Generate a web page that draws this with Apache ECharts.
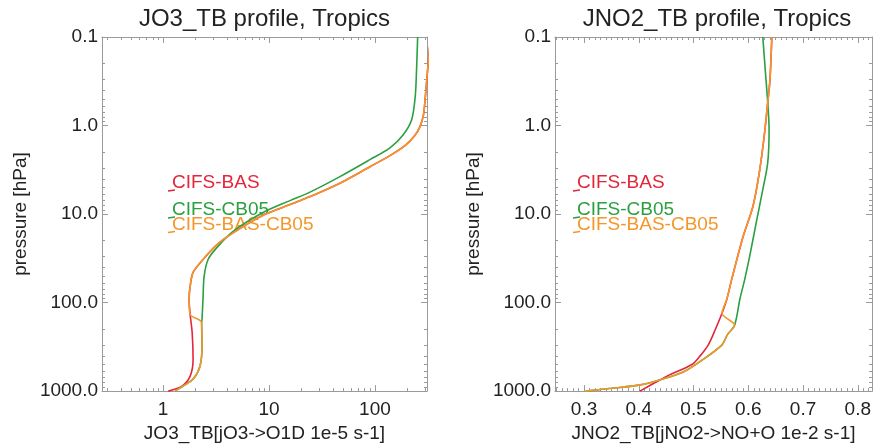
<!DOCTYPE html>
<html>
<head>
<meta charset="utf-8">
<script src="https://cdn.jsdelivr.net/npm/echarts@6/dist/echarts.min.js"></script>
<style>
html,body{margin:0;padding:0;background:#fff;}
#chart{width:874px;height:448px;}
</style>
</head>
<body>
<div id="chart"></div>
<script>
// ---------- data ----------
var seriesNames = ['CIFS-BAS', 'CIFS-CB05', 'CIFS-BAS-CB05'];
var titles = ['JO3_TB profile, Tropics', 'JNO2_TB profile, Tropics'];
var xNames = ['JO3_TB[jO3->O1D 1e-5 s-1]', 'JNO2_TB[jNO2->NO+O 1e-2 s-1]'];
var yName = 'pressure [hPa]';

// Left panel: JO3 (1e-5 s-1) vs pressure (hPa)
var jo3BasP = [0.1, 0.2, 0.283, 0.474, 0.757, 1.03, 1.30, 1.69, 2.19, 2.92, 4.48, 6.35, 7.82, 10.3, 16.2, 22.1, 32.6, 45.6, 65.6, 91.8, 136, 216, 436, 678, 880, 1000];
var jo3BasV = [335, 318, 310, 299, 287, 266, 238, 192, 138.5, 89.7, 46.7, 24.4, 15.8, 8.78, 4.61, 3.23, 2.38, 1.92, 1.80, 1.76, 1.80, 1.88, 1.92, 1.80, 1.51, 1.12];
var jo3CbP = [0.1, 0.235, 0.471, 0.861, 1.27, 1.79, 2.43, 3.78, 5.65, 7.05, 9.62, 15.6, 23.8, 32.6, 50.6, 91.8, 154, 168, 311, 523, 732, 880, 1000];
var jo3CbV = [253, 247, 240, 222, 185, 138.5, 89.7, 46.7, 24.4, 15.8, 8.78, 4.61, 3.23, 2.66, 2.44, 2.38, 2.33, 2.31, 2.33, 2.23, 1.92, 1.54, 1.30];
var jo3MixP = [0.1, 0.2, 0.283, 0.474, 0.757, 1.03, 1.30, 1.69, 2.19, 2.92, 4.48, 6.35, 7.82, 10.3, 16.2, 22.1, 32.6, 45.6, 65.6, 91.8, 136, 168, 311, 523, 732, 880, 1000];
var jo3MixV = [335, 318, 310, 299, 287, 266, 238, 192, 138.5, 89.7, 46.7, 24.4, 15.8, 8.78, 4.61, 3.23, 2.38, 1.92, 1.80, 1.76, 1.80, 2.31, 2.33, 2.23, 1.92, 1.54, 1.30];

// Right panel: JNO2 (1e-2 s-1) vs pressure (hPa)
var jno2BasP = [0.1, 0.305, 0.55, 1.33, 3.44, 8.17, 17.8, 54.7, 91.8, 132, 200, 300, 400, 500, 660, 800, 1000];
var jno2BasV = [0.643, 0.6396, 0.6355, 0.629, 0.620, 0.6086, 0.5907, 0.5697, 0.5608, 0.552, 0.540, 0.527, 0.512, 0.497, 0.455, 0.430, 0.402];
var jno2CbP = [0.1, 0.235, 0.55, 1.11, 2.63, 5.3, 12.5, 30.1, 54.7, 91.8, 180, 230, 300, 450, 600, 730, 850, 930, 1000];
var jno2CbV = [0.6265, 0.631, 0.6355, 0.638, 0.6355, 0.6265, 0.6145, 0.6025, 0.5935, 0.5846, 0.575, 0.562, 0.552, 0.515, 0.483, 0.444, 0.403, 0.350, 0.303];
var jno2MixP = [0.1, 0.305, 0.55, 1.33, 3.44, 8.17, 17.8, 54.7, 91.8, 132, 180, 230, 300, 450, 600, 730, 850, 930, 1000];
var jno2MixV = [0.643, 0.6396, 0.6355, 0.629, 0.620, 0.6086, 0.5907, 0.5697, 0.5608, 0.552, 0.575, 0.562, 0.552, 0.515, 0.483, 0.444, 0.403, 0.350, 0.303];

var colors = ['#e3263a', '#2aa040', '#f5962a'];

// ---------- helpers ----------
function pairs(v, p) { return v.map(function (x, i) { return [x, p[i]]; }); }
var FONT = 'Liberation Sans, Arial, Helvetica, sans-serif';
var TXT = '#222';
var AX = '#9a9a9a';

function xAxisDef(grid, type, min, max, pos, labels, name, minorSplit, fmt) {
  return {
    gridIndex: grid, type: type, min: min, max: max, position: pos,
    name: labels ? name : '', nameLocation: 'middle', nameGap: 29,
    nameTextStyle: { color: TXT, fontSize: 19, fontFamily: FONT },
    axisLine: { show: true, lineStyle: { color: AX, width: 1 } },
    axisTick: { show: true, inside: true, length: 6, lineStyle: { color: AX } },
    minorTick: { show: true, splitNumber: minorSplit, length: 3, lineStyle: { color: AX } },
    axisLabel: { show: labels, color: TXT, fontSize: 19, fontFamily: FONT, margin: 9,
      showMinLabel: false, showMaxLabel: false, formatter: fmt },
    splitLine: { show: false }
  };
}
function yAxisDef(grid, pos, labels) {
  return {
    gridIndex: grid, type: 'log', min: 0.1, max: 1000, inverse: true, position: pos,
    name: labels ? yName : '', nameLocation: 'middle', nameGap: 72, nameRotate: 90,
    nameTextStyle: { color: TXT, fontSize: 19, fontFamily: FONT },
    axisLine: { show: true, lineStyle: { color: AX, width: 1 } },
    axisTick: { show: true, inside: true, length: 6, lineStyle: { color: AX } },
    minorTick: { show: true, splitNumber: 9, length: 3, lineStyle: { color: AX } },
    axisLabel: { show: labels, color: TXT, fontSize: 19, fontFamily: FONT, margin: 4,
      formatter: function (v) { return Number(v).toFixed(1); } },
    splitLine: { show: false }
  };
}

function line(name, data, xi, yi, color, z) {
  return {
    name: name, type: 'line', xAxisIndex: xi, yAxisIndex: yi, data: data,
    showSymbol: false, symbol: 'none', smooth: 0.3, clip: true, z: z,
    lineStyle: { color: color, width: 1.6 }, animation: false
  };
}

function legend(x0, yCenters) {
  var els = [];
  seriesNames.forEach(function (n, i) {
    els.push({ type: 'line', shape: { x1: x0 - 4, y1: yCenters[i] + 8, x2: x0 + 3, y2: yCenters[i] + 7 },
      style: { stroke: colors[i], lineWidth: 1.5 } });
    els.push({ type: 'text', x: x0, y: yCenters[i],
      style: { text: n, fill: colors[i], font: '19px ' + FONT, textVerticalAlign: 'middle', textAlign: 'left' } });
  });
  return els;
}

var chart = echarts.init(document.getElementById('chart'), null, { renderer: 'canvas' });
var option = {
  animation: false,
  backgroundColor: '#fff',
  grid: [
    { left: 102, top: 37, width: 325, height: 355, containLabel: false },
    { left: 555, top: 37, width: 323, height: 355, containLabel: false }
  ],
  xAxis: [
    xAxisDef(0, 'log', 0.265, 310, 'bottom', true, xNames[0], 9, function (v) { return String(Math.round(v)); }),
    xAxisDef(0, 'log', 0.265, 310, 'top', false, '', 9),
    xAxisDef(1, 'value', 0.247, 0.826, 'bottom', true, xNames[1], 10, function (v) { return Number(v).toFixed(1); }),
    xAxisDef(1, 'value', 0.247, 0.826, 'top', false, '', 10)
  ],
  yAxis: [
    yAxisDef(0, 'left', true),
    yAxisDef(0, 'right', false),
    yAxisDef(1, 'left', true),
    yAxisDef(1, 'right', false)
  ],
  graphic: [
    { type: 'text', x: 264.5, y: 19, style: { text: titles[0], fill: TXT, font: '24px ' + FONT, textAlign: 'center', textVerticalAlign: 'middle' } },
    { type: 'text', x: 717, y: 19, style: { text: titles[1], fill: TXT, font: '24px ' + FONT, textAlign: 'center', textVerticalAlign: 'middle' } }
  ].concat(legend(172, [183, 210, 224.5])).concat(legend(577, [183, 210, 224.5])),
  series: [
    line(seriesNames[0], pairs(jo3BasV, jo3BasP), 0, 0, colors[0], 2),
    line(seriesNames[1], pairs(jo3CbV, jo3CbP), 0, 0, colors[1], 3),
    line(seriesNames[2], pairs(jo3MixV, jo3MixP), 0, 0, colors[2], 4),
    line(seriesNames[0], pairs(jno2BasV, jno2BasP), 2, 2, colors[0], 2),
    line(seriesNames[1], pairs(jno2CbV, jno2CbP), 2, 2, colors[1], 3),
    line(seriesNames[2], pairs(jno2MixV, jno2MixP), 2, 2, colors[2], 4)
  ]
};
chart.setOption(option);
</script>
</body>
</html>
